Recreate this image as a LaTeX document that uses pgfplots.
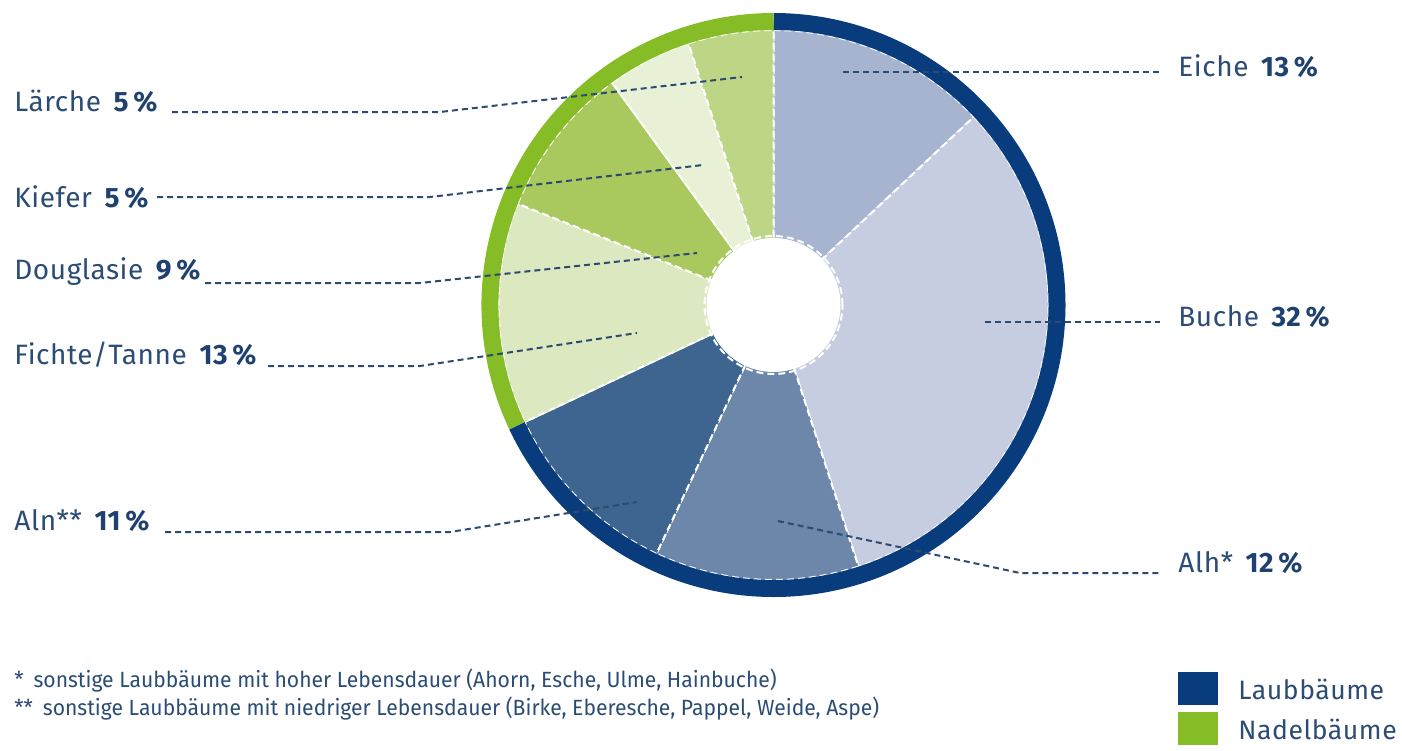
\documentclass[border=0pt]{standalone}
\usepackage{pgfplots}
\pgfplotsset{compat=1.18}
\usepackage{fontspec}
\setmainfont{Fira Sans}
\newfontfamily\lblfont[LetterSpace=2]{Fira Sans}
\newfontfamily\narrowfont[FakeStretch=0.96]{Fira Sans}
\definecolor{cEiche}{HTML}{A7B4CF}
\definecolor{cBuche}{HTML}{C6CDE0}
\definecolor{cAlh}{HTML}{6D87AA}
\definecolor{cAln}{HTML}{3E658F}
\definecolor{cFichte}{HTML}{DCE8BF}
\definecolor{cDouglasie}{HTML}{A9C95E}
\definecolor{cKiefer}{HTML}{E8F0D6}
\definecolor{cLaerche}{HTML}{BCD686}
\definecolor{ringblue}{HTML}{083C7C}
\definecolor{ringgreen}{HTML}{86BC25}
\definecolor{txt}{HTML}{2B4C74}
\definecolor{num}{HTML}{1F4170}
\definecolor{lead}{HTML}{2D4A70}
% slice: start percent, share percent, colour
\newcommand\slice[3]{%
  \fill[#3, draw=white, line width=1pt, dash pattern=on 3.5pt off 2pt]
    (axis cs:773.5,305) -- ++({90-3.6*#1}:137.5pt)
    arc[start angle={90-3.6*#1}, delta angle={-3.6*#2}, radius=137.5pt] -- cycle;}
\newcommand\lab[2]{\lblfont\fontsize{14pt}{17pt}\selectfont{\color{txt}#1}\hspace{0.45em}{\bfseries\color{num}#2\,\%}}
\begin{document}
\begin{tikzpicture}
\begin{axis}[
  x=0.5pt, y=0.5pt, xmin=0, xmax=1402, ymin=0, ymax=750,
  y dir=reverse, hide axis, clip=false, scale only axis,
  every axis plot/.append style={no markers},
  leader/.style={lead, line width=1pt, dash pattern=on 3pt off 2pt},
]
\path (axis cs:0,0) rectangle (axis cs:1402,750);
% slices (percent shares)
\slice{0}{13}{cEiche}
\slice{13}{32}{cBuche}
\slice{45}{12}{cAlh}
\slice{57}{11}{cAln}
\slice{68}{13}{cFichte}
\slice{81}{9}{cDouglasie}
\slice{90}{5}{cKiefer}
\slice{95}{5}{cLaerche}
% outer ring: Laubbaeume 68 %, Nadelbaeume 32 %
\draw[ringblue, line width=8.5pt] (axis cs:773.5,305) ++(90:141.75pt) arc[start angle=90, delta angle={-3.6*68}, radius=141.75pt];
\draw[ringgreen, line width=8.5pt] (axis cs:773.5,305) ++({90-3.6*68}:141.75pt) arc[start angle={90-3.6*68}, delta angle={-3.6*32}, radius=141.75pt];
% hole
\fill[white] (axis cs:773.5,305) circle[radius=33.5pt];
\draw[white, line width=1pt, dash pattern=on 3.5pt off 2pt] (axis cs:773.5,305) circle[radius=34.5pt];
% leader lines
\addplot[leader] coordinates {(172,112) (440,112) (742,77)};
\addplot[leader] coordinates {(157,197) (430,197) (703,165)};
\addplot[leader] coordinates {(205,283) (420,283) (697,253)};
\addplot[leader] coordinates {(268,366) (420,366) (637,333)};
\addplot[leader] coordinates {(165,532) (450,532) (637,502)};
\addplot[leader] coordinates {(843,72) (1160,72)};
\addplot[leader] coordinates {(985,322) (1160,322)};
\addplot[leader] coordinates {(778,521) (1020,573) (1160,573)};
% labels
\node[anchor=base west, inner sep=0pt] at (axis cs:14,111) {\lab{Lärche}{5}};
\node[anchor=base west, inner sep=0pt] at (axis cs:14,207) {\lab{Kiefer}{5}};
\node[anchor=base west, inner sep=0pt] at (axis cs:14,279) {\lab{Douglasie}{9}};
\node[anchor=base west, inner sep=0pt] at (axis cs:14,364) {\lab{Fichte/Tanne}{13}};
\node[anchor=base west, inner sep=0pt] at (axis cs:14,530) {\lab{Aln**}{11}};
\node[anchor=base west, inner sep=0pt] at (axis cs:1178,76) {\lab{Eiche}{13}};
\node[anchor=base west, inner sep=0pt] at (axis cs:1178,326) {\lab{Buche}{32}};
\node[anchor=base west, inner sep=0pt] at (axis cs:1178,572) {\lab{Alh*}{12}};
% footnotes
\node[anchor=base west, inner sep=0pt, txt] at (axis cs:14,687) {\narrowfont\fontsize{11pt}{13pt}\selectfont *\hspace{0.45em}sonstige Laubbäume mit hoher Lebensdauer (Ahorn, Esche, Ulme, Hainbuche)};
\node[anchor=base west, inner sep=0pt, txt] at (axis cs:14,715) {\narrowfont\fontsize{11pt}{13pt}\selectfont **\hspace{0.45em}sonstige Laubbäume mit niedriger Lebensdauer (Birke, Eberesche, Pappel, Weide, Aspe)};
% legend
\fill[ringblue] (axis cs:1178,672) rectangle (axis cs:1218,705);
\fill[ringgreen] (axis cs:1178,712) rectangle (axis cs:1218,745);
\node[anchor=base west, inner sep=0pt, txt] at (axis cs:1238,699) {\lblfont\fontsize{13.3pt}{16pt}\selectfont Laubbäume};
\node[anchor=base west, inner sep=0pt, txt] at (axis cs:1238,739) {\lblfont\fontsize{13.3pt}{16pt}\selectfont Nadelbäume};
\end{axis}
\end{tikzpicture}
\end{document}
